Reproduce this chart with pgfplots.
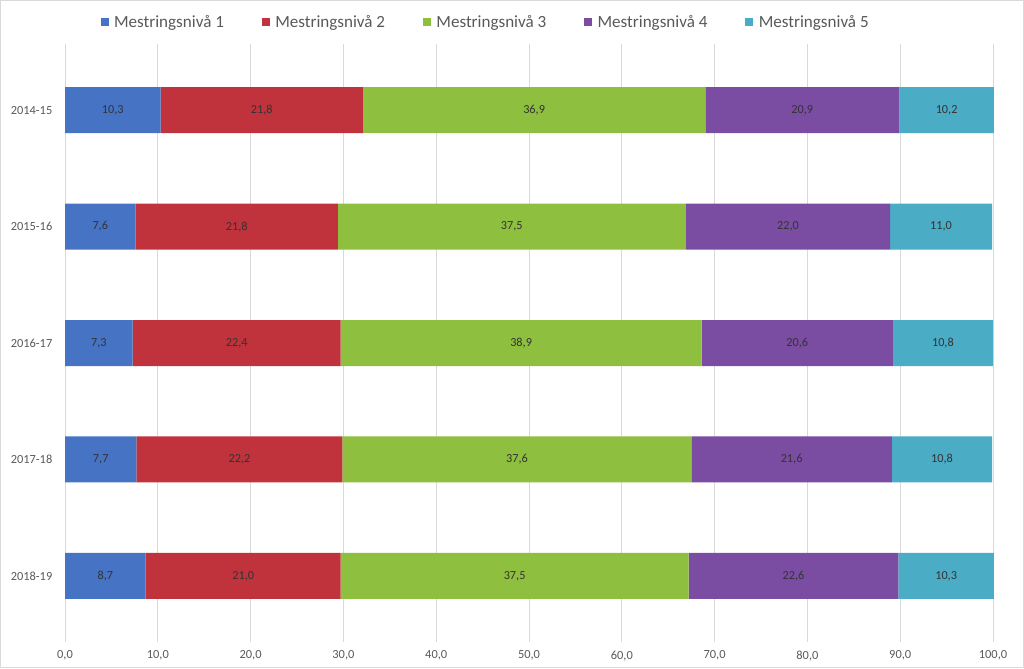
\documentclass[border=0pt]{standalone}
\usepackage{pgfplots}
\pgfplotsset{compat=1.18}
\usepackage{fontspec}
\setmainfont{Carlito}
\definecolor{c1}{HTML}{4673C3}
\definecolor{c2}{HTML}{C0323C}
\definecolor{c3}{HTML}{8FBF3E}
\definecolor{c4}{HTML}{7A4CA2}
\definecolor{c5}{HTML}{4BACC6}
\definecolor{gridc}{HTML}{D9D9D9}
\definecolor{tickc}{HTML}{595959}
\begin{document}
\begin{tikzpicture}
\useasboundingbox (0,0) rectangle (768pt,501pt);
\draw[gridc, line width=0.75pt] (0.4pt,0.4pt) rectangle (767.6pt,500.6pt);
\begin{axis}[
  at={(48.75pt,25.5pt)}, anchor=south west,
  scale only axis, width=696pt, height=436.5pt,
  clip=false,
  xbar stacked, bar width=34.5pt,
  xmin=0, xmax=100, xtick distance=10,
  ymin=-0.5, ymax=4.5, y dir=reverse,
  ytick={0,1,2,3,4},
  yticklabels={2014-15,2015-16,2016-17,2017-18,2018-19},
  xticklabel={\pgfmathprintnumber[fixed,fixed zerofill,precision=1,use comma]{\tick}},
  /pgf/number format/assume math mode=true,
  ticklabel style={font=\fontsize{9.3}{11}\selectfont, text=tickc},
  yticklabel style={xshift=0pt},
  xticklabel style={yshift=-3pt},
  xmajorgrids, grid style={gridc, line width=0.75pt},
  axis line style={draw=none},
  tick align=outside, major tick length=6pt,
  xtick style={draw=gridc, line width=0.75pt},
  ytick style={draw=none},
  point meta=explicit,
  nodes near coords={\pgfmathprintnumber[fixed,fixed zerofill,precision=1,use comma]{\pgfplotspointmeta}},
  every node near coord/.append style={anchor=center, font=\fontsize{9.2}{10}\selectfont, text=black!80},
  legend columns=5,
  legend style={at={(0.4537,1.0515)}, anchor=center, draw=none, fill=none,
    font=\fontsize{12.8}{14}\selectfont, text=tickc,
    /tikz/every odd column/.append style={column sep=2pt},
    /tikz/every even column/.append style={column sep=26.5pt}},
  legend image code/.code={\fill[#1] (0pt,-3pt) rectangle (6pt,3pt);},
]
\addplot[fill=c1, draw=none] table[x=v, y=y, meta=v] {
y v
0 10.3
1 7.6
2 7.3
3 7.7
4 8.7
};
\addplot[fill=c2, draw=none] table[x=v, y=y, meta=v] {
y v
0 21.8
1 21.8
2 22.4
3 22.2
4 21.0
};
\addplot[fill=c3, draw=none] table[x=v, y=y, meta=v] {
y v
0 36.9
1 37.5
2 38.9
3 37.6
4 37.5
};
\addplot[fill=c4, draw=none] table[x=v, y=y, meta=v] {
y v
0 20.9
1 22.0
2 20.6
3 21.6
4 22.6
};
\addplot[fill=c5, draw=none] table[x=v, y=y, meta=v] {
y v
0 10.2
1 11.0
2 10.8
3 10.8
4 10.3
};
\legend{Mestringsnivå 1,Mestringsnivå 2,Mestringsnivå 3,Mestringsnivå 4,Mestringsnivå 5}
\end{axis}
\end{tikzpicture}
\end{document}
